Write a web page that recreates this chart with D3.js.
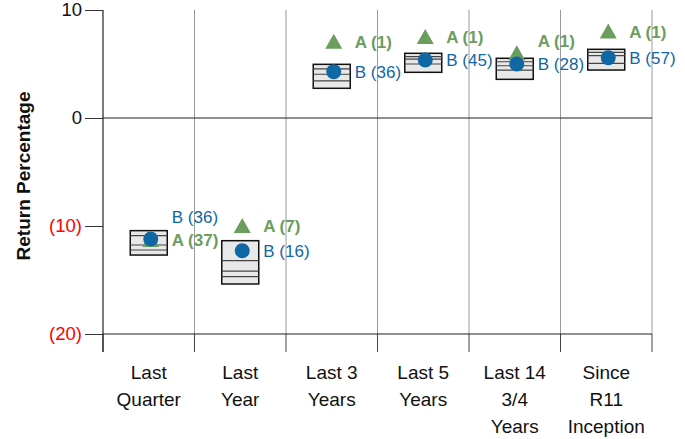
<!DOCTYPE html>
<html><head><meta charset="utf-8">
<script src="https://cdn.jsdelivr.net/npm/d3@7/dist/d3.min.js"></script>
<style>body{margin:0;background:#fff;} text{font-family:"Liberation Sans",Arial,sans-serif;}</style>
</head><body>
<svg id="c" width="685" height="439"></svg>
<script>
const categories = [["Last","Quarter"],["Last","Year"],["Last 3","Years"],["Last 5","Years"],["Last 14","3/4","Years"],["Since","R11","Inception"]];
const p05 = [-10.43, -11.36, 4.97, 5.99, 5.53, 6.36];
const p25 = [-10.9, -13.21, 4.54, 5.68, 5.21, 6.08];
const p50 = [-11.76, -14.17, 4.05, 5.46, 4.84, 5.77];
const p75 = [-12.22, -14.69, 3.43, 5.0, 4.44, 5.06];
const p95 = [-12.69, -15.37, 2.75, 4.23, 3.58, 4.44];
const aValues = [-11.3, -10.0, 7.07, 7.5, 6.0, 8.0];
const bValues = [-11.2, -12.29, 4.29, 5.37, 5.0, 5.58];
const aRanks = [37, 7, 1, 1, 1, 1];
const bRanks = [36, 16, 36, 45, 28, 57];
const yTicks = [10, 0, -10, -20];

const svg = d3.select("#c");
const L = 103, R = 652, T = 10, B = 334;
const keys = categories.map((c,i)=>i);
const x = d3.scaleBand().domain(keys).range([L, R]).padding(0);
const y = d3.scaleLinear().domain([-20, 10]).range([B, T]);
const cx = i => x(i) + x.bandwidth()/2;
const green = "#6b9d5f", blue = "#0f67a3";

// vertical grid lines
const bounds = keys.map(i => x(i) + x.bandwidth());
svg.selectAll(".vg").data(bounds).enter().append("line")
  .attr("x1", d=>d).attr("x2", d=>d).attr("y1", T).attr("y2", B)
  .attr("stroke", "#9a9a9a").attr("stroke-width", 1);
// ticks below bottom
svg.selectAll(".bt").data([L, ...bounds]).enter().append("line")
  .attr("x1", d=>d).attr("x2", d=>d).attr("y1", B).attr("y2", B+18)
  .attr("stroke", "#444").attr("stroke-width", 1);

// y axis
const yAxis = d3.axisLeft(y).tickValues(yTicks).tickSize(18).tickPadding(3)
  .tickFormat(d => d < 0 ? "(" + Math.abs(d) + ")" : d);
const ga = svg.append("g").attr("transform", `translate(${L},0)`).call(yAxis);
ga.select(".domain").remove();
ga.selectAll(".tick line").attr("stroke", "#333");
ga.selectAll(".tick text").attr("font-size", 18.5)
  .attr("font-family", "Liberation Sans, Arial, sans-serif")
  .attr("fill", d => d < 0 ? "#ff0000" : "#111");
svg.append("line").attr("x1", L).attr("x2", L).attr("y1", T).attr("y2", B+18).attr("stroke", "#222").attr("stroke-width", 1.2);
// horizontal lines at 0 and -20
svg.selectAll(".hl").data([0, -20]).enter().append("line")
  .attr("x1", L).attr("x2", R).attr("y1", d=>y(d)).attr("y2", d=>y(d))
  .attr("stroke", "#222").attr("stroke-width", 1.2);

// y title
svg.append("text").attr("transform", `translate(30,${(T+B)/2+4}) rotate(-90)`)
  .attr("text-anchor", "middle").attr("font-size", 19).attr("font-weight", "bold")
  .attr("fill", "#111").text("Return Percentage");

// x labels
categories.forEach((lines, i) => {
  const t = svg.append("text").attr("x", cx(i)).attr("y", 379).attr("text-anchor", "middle")
    .attr("font-size", 19).attr("fill", "#111");
  lines.forEach((ln, j) => t.append("tspan").attr("x", cx(i)).attr("dy", j ? 27 : 0).text(ln));
});

// boxes
const bw = 37;
keys.forEach(i => {
  const g = svg.append("g");
  g.append("rect").attr("x", cx(i) - bw/2).attr("y", y(p05[i])).attr("width", bw)
    .attr("height", y(p95[i]) - y(p05[i])).attr("fill", "#e8e8e8").attr("stroke", "#111").attr("stroke-width", 1.5);
  [p25[i], p50[i], p75[i]].forEach(v => {
    g.append("line").attr("x1", cx(i) - bw/2).attr("x2", cx(i) + bw/2).attr("y1", y(v)).attr("y2", y(v))
      .attr("stroke", "#444").attr("stroke-width", 1.2);
  });
});

// markers
keys.forEach(i => {
  const tx = cx(i) + 2, ty = y(aValues[i]);
  svg.append("path").attr("d", `M${tx},${ty-8}L${tx+8.5},${ty+7}L${tx-8.5},${ty+7}Z`).attr("fill", green);
  svg.append("circle").attr("cx", cx(i) + 2).attr("cy", y(bValues[i])).attr("r", 7.5).attr("fill", blue);
});

// labels
keys.forEach(i => {
  let ay = y(aValues[i]), by = y(bValues[i]);
  if (Math.abs(ay - by) < 18) {
    if (bValues[i] >= aValues[i]) by = ay - 23; else ay = by - 23;
  }
  svg.append("text").attr("x", cx(i) + 23).attr("y", ay + 6).attr("font-size", 17)
    .attr("font-weight", "bold").attr("fill", green).text(`A (${aRanks[i]})`);
  svg.append("text").attr("x", cx(i) + 23).attr("y", by + 6).attr("font-size", 17)
    .attr("fill", blue).text(`B (${bRanks[i]})`);
});
</script>
</body></html>
